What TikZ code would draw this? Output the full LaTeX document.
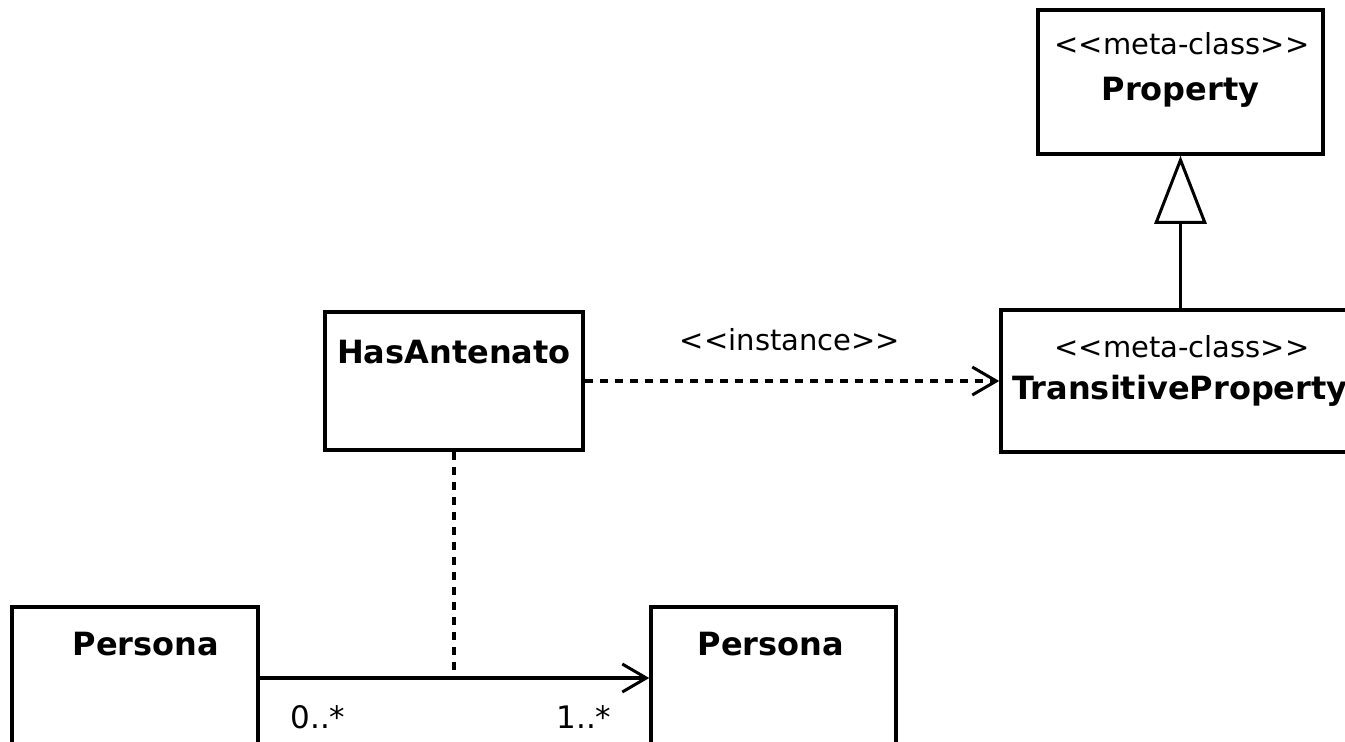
\documentclass[tikz,border=0pt]{standalone}
\usepackage{fontspec}
\setmainfont[Ligatures=NoCommon]{DejaVu Sans}
\usetikzlibrary{arrows.meta}

\newcommand{\guil}[1]{<{}<#1>{}>}

\tikzset{
  cls/.style={draw, line width=3.5pt, fill=white, inner sep=0pt},
  cname/.style={font=\fontsize{32}{35}\selectfont\bfseries, inner sep=0pt},
  stereo/.style={font=\fontsize{29}{32}\selectfont, inner sep=0pt},
  mult/.style={font=\fontsize{31}{34}\selectfont, inner sep=0pt},
  conn/.style={line width=3.5pt},
  dep/.style={conn, dash pattern=on 8pt off 7pt},
  openhead/.style={-{Straight Barb[length=24pt, width=28pt, line width=3pt]}},
  genhead/.style={-{Triangle[open, length=68pt, width=52pt, line width=3pt, fill=white]}}
}

\begin{document}
\begin{tikzpicture}[x=1pt, y=-1pt]
  \useasboundingbox (0,0) rectangle (1345,742);
  \clip (0,0) rectangle (1345,742);
  \fill[white] (0,0) rectangle (1345,742);

  % classes
  \node[cls, minimum width=285pt, minimum height=144pt] (prop) at (1180.5,82) {};
  \node[stereo] (propst) at (1182,44) {\guil{meta-class}};
  \node[cname] (propnm) at (1180.5,92) {Property};

  \node[cls, minimum width=400pt, minimum height=142pt] (trans) at (1201,381) {};
  \node[stereo] (transst) at (1182,347) {\guil{meta-class}};
  \node[cname] (transnm) at (1180,391) {TransitiveProperty};

  \node[cls, minimum width=258pt, minimum height=138pt] (has) at (454,381) {};
  \node[cname] (hasnm) at (454,352) {HasAntenato};

  \node[cls, minimum width=246pt, minimum height=200pt] (p1) at (135,707) {};
  \node[cname] (p1nm) at (146,644) {Persona};

  \node[cls, minimum width=245pt, minimum height=200pt] (p2) at (773.5,707) {};
  \node[cname] (p2nm) at (771,644) {Persona};

  % generalization
  \draw[conn, genhead] (prop.south |- trans.north) -- (prop.south);

  % instance dependency
  \draw[dep, openhead] (has.east) -- (trans.west |- has.east);
  \node[stereo] (inst) at (790,340) {\guil{instance}};

  % association with its class link
  \coordinate (mid) at (454,678);
  \draw[conn, openhead] (mid -| p1.east) -- (mid -| p2.west);
  \draw[dep] (has.south) -- (mid);
  \node[mult] (m0) at (318,717) {0..*};
  \node[mult] (m1) at (584,717) {1..*};
\end{tikzpicture}
\end{document}
